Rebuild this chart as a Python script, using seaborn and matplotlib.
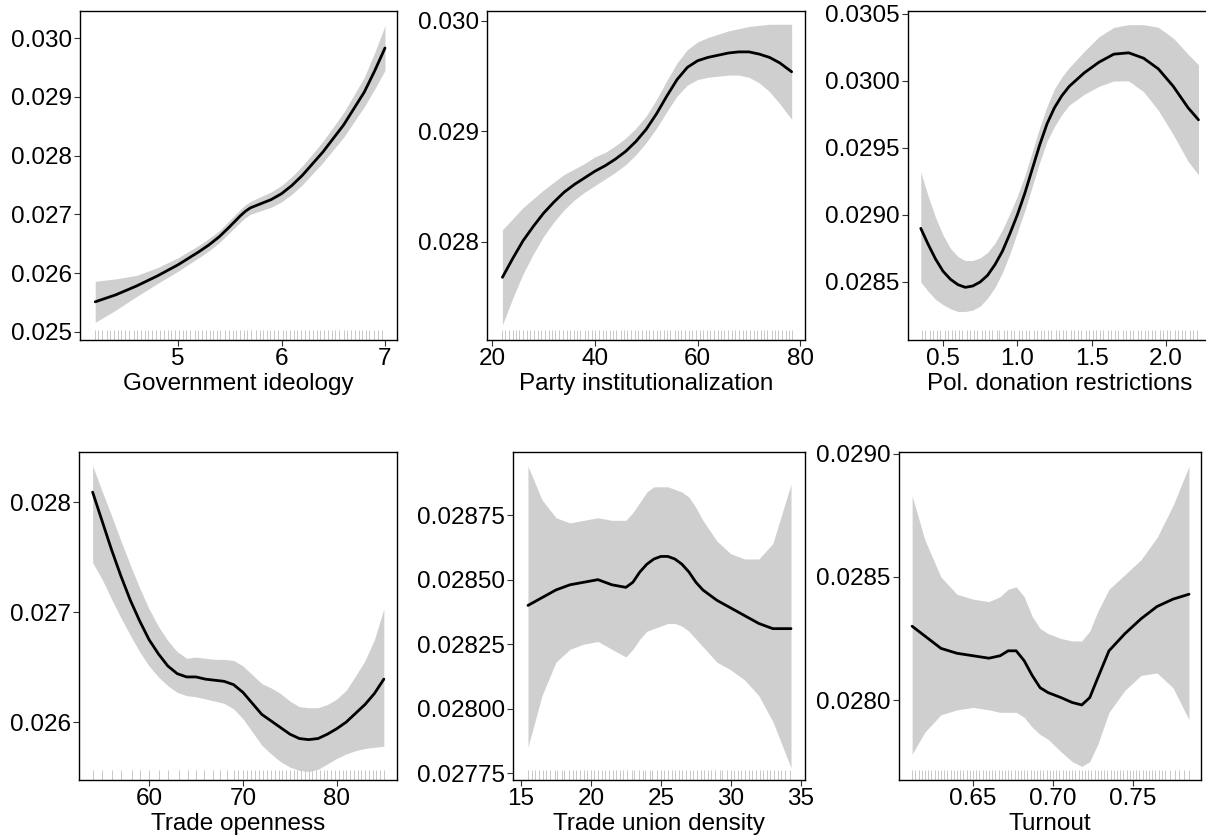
import numpy as np
import seaborn as sns
import matplotlib.pyplot as plt

# ---- Government ideology
gov_x = [4.2, 4.4, 4.6, 4.8, 5.0, 5.2, 5.3, 5.4, 5.5, 5.6, 5.65, 5.7, 5.8, 5.9, 6.0, 6.1, 6.2, 6.4,
         6.6, 6.8, 6.9, 7.0]
gov_fit = [0.02551, 0.02563, 0.02578, 0.02595, 0.02614, 0.02636, 0.02648, 0.02662, 0.02679, 0.02697,
           0.02705, 0.02711, 0.02718, 0.02725, 0.02735, 0.02749, 0.02766, 0.02806, 0.02852, 0.02908,
           0.02944, 0.02983]
gov_lo = [0.02516, 0.02537, 0.02560, 0.02582, 0.02603, 0.02626, 0.02638, 0.02652, 0.02669, 0.02686,
          0.02694, 0.02700, 0.02706, 0.02712, 0.02721, 0.02734, 0.02750, 0.02788, 0.02831, 0.02883,
          0.02913, 0.02945]
gov_hi = [0.02586, 0.02590, 0.02596, 0.02609, 0.02626, 0.02647, 0.02659, 0.02672, 0.02690, 0.02708,
          0.02716, 0.02722, 0.02730, 0.02738, 0.02749, 0.02764, 0.02782, 0.02824, 0.02873, 0.02933,
          0.02975, 0.03021]
gov_rug = [4.20, 4.23, 4.27, 4.31, 4.34, 4.38, 4.42, 4.45, 4.49, 4.53, 4.57, 4.60, 4.64, 4.68, 4.71, 4.75,
           4.79, 4.83, 4.86, 4.90, 4.93, 4.97, 5.01, 5.05, 5.08, 5.12, 5.16, 5.19, 5.23, 5.27, 5.31, 5.34,
           5.38, 5.41, 5.45, 5.49, 5.53, 5.56, 5.60, 5.64, 5.67, 5.71, 5.75, 5.79, 5.82, 5.86, 5.89, 5.93,
           5.97, 6.01, 6.04, 6.08, 6.12, 6.15, 6.19, 6.23, 6.27, 6.30, 6.34, 6.37, 6.41, 6.45, 6.49, 6.52,
           6.56, 6.60, 6.63, 6.67, 6.71, 6.75, 6.78, 6.82, 6.85, 6.89, 6.93, 6.97]

# ---- Party institutionalization
party_x = [22, 24, 26, 28, 30, 32, 34, 36, 38, 40, 42, 44, 46, 48, 50, 52, 54, 56, 58, 60, 62, 64,
           66, 68, 70, 72, 74, 76, 78.3]
party_fit = [0.02768, 0.02785, 0.02801, 0.02814, 0.02826, 0.02836, 0.02845, 0.02852, 0.02858, 0.02864,
             0.02869, 0.02875, 0.02882, 0.02891, 0.02902, 0.02916, 0.02932, 0.02947, 0.02958, 0.02964,
             0.02967, 0.02969, 0.02971, 0.02972, 0.02972, 0.02970, 0.02967, 0.02962, 0.02954]
party_lo = [0.02725, 0.02749, 0.02771, 0.02789, 0.02805, 0.02818, 0.02829, 0.02838, 0.02845, 0.02851,
            0.02857, 0.02863, 0.02870, 0.02879, 0.02890, 0.02903, 0.02918, 0.02932, 0.02942, 0.02947,
            0.02949, 0.02950, 0.02951, 0.02951, 0.02949, 0.02944, 0.02936, 0.02925, 0.02911]
party_hi = [0.02811, 0.02821, 0.02831, 0.02839, 0.02847, 0.02854, 0.02861, 0.02866, 0.02871, 0.02877,
            0.02881, 0.02887, 0.02894, 0.02903, 0.02914, 0.02929, 0.02946, 0.02962, 0.02974, 0.02981,
            0.02985, 0.02988, 0.02991, 0.02993, 0.02995, 0.02996, 0.02997, 0.02997, 0.02997]
party_rug = [22.0, 22.6, 23.3, 24.1, 24.7, 25.2, 26.0, 26.8, 27.3, 28.1, 28.9, 29.5, 30.2, 31.0, 31.6,
             32.3, 33.0, 33.8, 34.5, 35.1, 35.9, 36.6, 37.2, 38.0, 38.7, 39.4, 40.0, 40.8, 41.5, 42.1,
             42.9, 43.6, 44.2, 45.0, 45.7, 46.3, 47.1, 47.8, 48.4, 49.2, 49.9, 50.5, 51.3, 52.0, 52.6,
             53.4, 54.1, 54.7, 55.5, 56.2, 56.8, 57.6, 58.3, 58.9, 59.7, 60.4, 61.0, 61.8, 62.5, 63.1,
             63.9, 64.6, 65.2, 66.0, 66.7, 67.3, 68.1, 68.8, 69.4, 70.2, 70.9, 71.5, 72.3, 73.0, 73.6,
             74.4, 75.1, 75.7, 76.5, 77.2, 77.8, 78.4]

# ---- Pol. donation restrictions
don_x = [0.35, 0.40, 0.45, 0.50, 0.55, 0.60, 0.65, 0.70, 0.75, 0.80, 0.85, 0.90, 0.95, 1.00, 1.05,
         1.10, 1.15, 1.20, 1.25, 1.30, 1.35, 1.45, 1.55, 1.65, 1.75, 1.85, 1.95, 2.05, 2.15, 2.22]
don_fit = [0.02890, 0.02878, 0.02867, 0.02858, 0.02852, 0.02848, 0.02846, 0.02847, 0.02850, 0.02855,
           0.02863, 0.02873, 0.02886, 0.02900, 0.02916, 0.02934, 0.02952, 0.02968, 0.02980, 0.02989,
           0.02996, 0.03006, 0.03014, 0.03020, 0.03021, 0.03017, 0.03009, 0.02996, 0.02980, 0.02971]
don_lo = [0.02850, 0.02843, 0.02837, 0.02833, 0.02830, 0.02828, 0.02828, 0.02829, 0.02832, 0.02838,
          0.02846, 0.02857, 0.02871, 0.02887, 0.02903, 0.02921, 0.02939, 0.02955, 0.02966, 0.02975,
          0.02982, 0.02990, 0.02996, 0.03000, 0.03000, 0.02992, 0.02978, 0.02960, 0.02940, 0.02930]
don_hi = [0.02932, 0.02914, 0.02898, 0.02885, 0.02875, 0.02869, 0.02866, 0.02866, 0.02868, 0.02872,
          0.02879, 0.02889, 0.02901, 0.02914, 0.02929, 0.02947, 0.02965, 0.02981, 0.02994, 0.03003,
          0.03010, 0.03022, 0.03033, 0.03040, 0.03042, 0.03042, 0.03040, 0.03032, 0.03020, 0.03012]
don_rug = [0.36, 0.38, 0.41, 0.43, 0.46, 0.48, 0.51, 0.53, 0.56, 0.58, 0.61, 0.63, 0.66, 0.68, 0.71,
           0.73, 0.76, 0.78, 0.81, 0.83, 0.86, 0.88, 0.91, 0.93, 0.96, 0.98, 1.01, 1.03, 1.06, 1.08,
           1.11, 1.13, 1.16, 1.18, 1.21, 1.23, 1.26, 1.28, 1.31, 1.33, 1.36, 1.38, 1.41, 1.43, 1.46,
           1.48, 1.51, 1.53, 1.56, 1.58, 1.61, 1.63, 1.66, 1.68, 1.71, 1.73, 1.76, 1.78, 1.81, 1.83,
           1.86, 1.88, 1.91, 1.93, 1.96, 1.98, 2.01, 2.03, 2.06, 2.08, 2.11, 2.13, 2.16, 2.18, 2.21]

# ---- Trade openness
trade_x = [54, 55, 56, 57, 58, 59, 60, 61, 62, 63, 64, 65, 66, 67, 68, 69, 70, 71, 72, 73, 74, 75,
           76, 77, 78, 79, 80, 81, 82, 83, 84, 85]
trade_fit = [0.02809, 0.02783, 0.02757, 0.02733, 0.02711, 0.02692, 0.02675, 0.02662, 0.02651, 0.02644,
             0.02641, 0.02641, 0.02639, 0.02638, 0.02637, 0.02634, 0.02627, 0.02617, 0.02607, 0.02601,
             0.02595, 0.02589, 0.02585, 0.02584, 0.02585, 0.02589, 0.02594, 0.02600, 0.02608, 0.02616,
             0.02626, 0.02639]
trade_lo = [0.02745, 0.02730, 0.02712, 0.02695, 0.02679, 0.02664, 0.02651, 0.02641, 0.02633, 0.02627,
            0.02624, 0.02623, 0.02621, 0.02619, 0.02617, 0.02612, 0.02603, 0.02591, 0.02579, 0.02571,
            0.02564, 0.02559, 0.02556, 0.02555, 0.02557, 0.02562, 0.02567, 0.02571, 0.02574, 0.02576,
            0.02577, 0.02578]
trade_hi = [0.02833, 0.02810, 0.02788, 0.02765, 0.02743, 0.02722, 0.02703, 0.02687, 0.02674, 0.02664,
            0.02658, 0.02659, 0.02658, 0.02657, 0.02657, 0.02656, 0.02651, 0.02643, 0.02635, 0.02631,
            0.02626, 0.02619, 0.02614, 0.02613, 0.02613, 0.02616, 0.02621, 0.02629, 0.02642, 0.02656,
            0.02675, 0.02703]
trade_rug = [54.0, 55.0, 56.1, 57.0, 58.2, 59.0, 60.0, 61.1, 62.0, 63.2, 64.1, 65.0, 65.9, 66.8, 67.6,
             68.3, 69.0, 69.5, 70.0, 70.4, 70.9, 71.3, 71.7, 72.1, 72.6, 73.0, 73.4, 73.8, 74.2, 74.6,
             75.0, 75.4, 75.8, 76.2, 76.6, 77.0, 77.4, 77.8, 78.2, 78.6, 79.0, 79.4, 79.8, 80.2, 80.6,
             81.0, 81.4, 81.8, 82.2, 82.6, 83.0, 83.4, 83.8, 84.2, 84.6, 85.0]

# ---- Trade union density
union_x = [15.5, 16.5, 17.5, 18.5, 19.5, 20.5, 21.5, 22.5, 23.0, 23.5, 24.0, 24.5, 25.0, 25.5, 26.0,
           26.5, 27.0, 27.5, 28.0, 29.0, 30.0, 31.0, 32.0, 33.0, 34.3]
union_fit = [0.02840, 0.02843, 0.02846, 0.02848, 0.02849, 0.02850, 0.02848, 0.02847, 0.02849, 0.02853,
             0.02856, 0.02858, 0.02859, 0.02859, 0.02858, 0.02856, 0.02853, 0.02849, 0.02846, 0.02842,
             0.02839, 0.02836, 0.02833, 0.02831, 0.02831]
union_lo = [0.02785, 0.02805, 0.02818, 0.02823, 0.02825, 0.02826, 0.02823, 0.02820, 0.02823, 0.02827,
            0.02830, 0.02831, 0.02832, 0.02833, 0.02833, 0.02832, 0.02830, 0.02827, 0.02824, 0.02818,
            0.02815, 0.02811, 0.02805, 0.02795, 0.02777]
union_hi = [0.02894, 0.02881, 0.02874, 0.02872, 0.02873, 0.02874, 0.02873, 0.02873, 0.02876, 0.02880,
            0.02884, 0.02886, 0.02886, 0.02886, 0.02885, 0.02884, 0.02882, 0.02878, 0.02873, 0.02865,
            0.02860, 0.02858, 0.02858, 0.02864, 0.02887]
union_rug = [15.5, 15.8, 16.0, 16.3, 16.6, 16.8, 17.1, 17.4, 17.6, 17.9, 18.1, 18.4, 18.7, 18.9, 19.2,
             19.5, 19.7, 20.0, 20.2, 20.5, 20.8, 21.0, 21.3, 21.6, 21.8, 22.1, 22.3, 22.6, 22.9, 23.1,
             23.4, 23.7, 23.9, 24.2, 24.4, 24.7, 25.0, 25.2, 25.5, 25.8, 26.0, 26.3, 26.5, 26.8, 27.1,
             27.3, 27.6, 27.9, 28.1, 28.4, 28.6, 28.9, 29.2, 29.4, 29.7, 30.0, 30.2, 30.5, 30.7, 31.0,
             31.3, 31.5, 31.8, 32.1, 32.3, 32.6, 32.8, 33.1, 33.4, 33.6, 33.9, 34.2]

# ---- Turnout
turn_x = [0.612, 0.620, 0.630, 0.640, 0.650, 0.660, 0.667, 0.672, 0.677, 0.682, 0.687, 0.692, 0.697,
          0.705, 0.712, 0.718, 0.723, 0.728, 0.735, 0.745, 0.755, 0.765, 0.775, 0.785]
turn_fit = [0.02830, 0.02826, 0.02821, 0.02819, 0.02818, 0.02817, 0.02818, 0.02820, 0.02820, 0.02816,
            0.02810, 0.02805, 0.02803, 0.02801, 0.02799, 0.02798, 0.02801, 0.02809, 0.02820, 0.02827,
            0.02833, 0.02838, 0.02841, 0.02843]
turn_lo = [0.02778, 0.02787, 0.02794, 0.02796, 0.02797, 0.02796, 0.02795, 0.02795, 0.02795, 0.02793,
           0.02789, 0.02786, 0.02784, 0.02779, 0.02775, 0.02773, 0.02775, 0.02782, 0.02795, 0.02804,
           0.02810, 0.02811, 0.02805, 0.02792]
turn_hi = [0.02883, 0.02865, 0.02850, 0.02843, 0.02841, 0.02840, 0.02842, 0.02845, 0.02846, 0.02842,
           0.02834, 0.02829, 0.02827, 0.02825, 0.02824, 0.02824, 0.02828, 0.02836, 0.02845, 0.02851,
           0.02857, 0.02866, 0.02879, 0.02895]
turn_rug = [0.612, 0.614, 0.616, 0.618, 0.620, 0.622, 0.624, 0.626, 0.628, 0.630, 0.632, 0.634, 0.636,
            0.638, 0.640, 0.642, 0.644, 0.646, 0.648, 0.650, 0.652, 0.654, 0.656, 0.658, 0.660, 0.662,
            0.664, 0.666, 0.668, 0.670, 0.672, 0.674, 0.676, 0.678, 0.680, 0.682, 0.684, 0.686, 0.688,
            0.690, 0.692, 0.694, 0.696, 0.698, 0.700, 0.702, 0.704, 0.706, 0.708, 0.710, 0.712, 0.714,
            0.716, 0.718, 0.720, 0.722, 0.724, 0.726, 0.728, 0.730, 0.732, 0.734, 0.736, 0.738, 0.740,
            0.742, 0.744, 0.746, 0.748, 0.750, 0.752, 0.754, 0.756, 0.758, 0.760, 0.762, 0.764, 0.766,
            0.768, 0.770, 0.773, 0.776, 0.779, 0.782, 0.785]

sns.set_style("ticks")
plt.rcParams['font.family'] = ['Liberation Sans', 'DejaVu Sans']
plt.rcParams['text.color'] = 'black'
plt.rcParams['xtick.labelcolor'] = 'black'
plt.rcParams['ytick.labelcolor'] = 'black'
plt.rcParams['axes.labelcolor'] = 'black'

panels = [
    # x, fit, lo, hi, rug, label, xticks, xticklabels, yticks, yticklabels, xlim, ylim, axes rect (px)
    (gov_x, gov_fit, gov_lo, gov_hi, gov_rug, "Government ideology",
     [5, 6, 7], ["5", "6", "7"],
     [0.025, 0.026, 0.027, 0.028, 0.029, 0.030], ["0.025", "0.026", "0.027", "0.028", "0.029", "0.030"],
     (4.053, 7.116), (0.02486, 0.03046), (80, 11, 397, 340)),
    (party_x, party_fit, party_lo, party_hi, party_rug, "Party institutionalization",
     [20, 40, 60, 80], ["20", "40", "60", "80"],
     [0.028, 0.029, 0.030], ["0.028", "0.029", "0.030"],
     (19.0, 80.9), (0.027113, 0.030090), (487, 11, 805, 340)),
    (don_x, don_fit, don_lo, don_hi, don_rug, "Pol. donation restrictions",
     [0.5, 1.0, 1.5, 2.0], ["0.5", "1.0", "1.5", "2.0"],
     [0.0285, 0.0290, 0.0295, 0.0300, 0.0305], ["0.0285", "0.0290", "0.0295", "0.0300", "0.0305"],
     (0.264, 2.311), (0.028067, 0.030522), (908, 11, 1212, 340)),
    (trade_x, trade_fit, trade_lo, trade_hi, trade_rug, "Trade openness",
     [60, 70, 80], ["60", "70", "80"],
     [0.026, 0.027, 0.028], ["0.026", "0.027", "0.028"],
     (52.55, 86.4), (0.025473, 0.028455), (79, 452, 397, 780)),
    (union_x, union_fit, union_lo, union_hi, union_rug, "Trade union density",
     [15, 20, 25, 30, 35], ["15", "20", "25", "30", "35"],
     [0.02775, 0.02800, 0.02825, 0.02850, 0.02875], ["0.02775", "0.02800", "0.02825", "0.02850", "0.02875"],
     (14.43, 35.3), (0.027723, 0.028995), (513, 452, 805, 780)),
    (turn_x, turn_fit, turn_lo, turn_hi, turn_rug, "Turnout",
     [0.65, 0.70, 0.75], ["0.65", "0.70", "0.75"],
     [0.0280, 0.0285, 0.0290], ["0.0280", "0.0285", "0.0290"],
     (0.6038, 0.7925), (0.027675, 0.029008), (899, 452, 1201, 780)),
]

W, H = 1206, 836
fig = plt.figure(figsize=(W / 100, H / 100), dpi=100)

for (x, fit, lo, hi, rug, label, xt, xtl, yt, ytl, xlim, ylim, rect) in panels:
    l, t, r, b = rect
    ax = fig.add_axes([l / W, 1 - b / H, (r - l) / W, (b - t) / H])
    ax.fill_between(x, lo, hi, color="#cfcfcf", linewidth=0)
    sns.lineplot(x=x, y=fit, ax=ax, color="black", linewidth=2.0, sort=True)
    sns.rugplot(x=rug, ax=ax, height=0.03, color="#c8c8c8", linewidth=0.7)
    ax.set_xlim(*xlim)
    ax.set_ylim(*ylim)
    ax.set_xticks(xt)
    ax.set_xticklabels(xtl)
    ax.set_yticks(yt)
    ax.set_yticklabels(ytl)
    ax.set_xlabel(label, fontsize=17.5, labelpad=2)
    ax.set_ylabel("")
    ax.tick_params(labelsize=17.5, length=4, width=0.8, color="#333333", pad=2)
    for s in ax.spines.values():
        s.set_linewidth(1.0)
        s.set_color("black")

plt.savefig("out.png", dpi=100)
plt.close()
